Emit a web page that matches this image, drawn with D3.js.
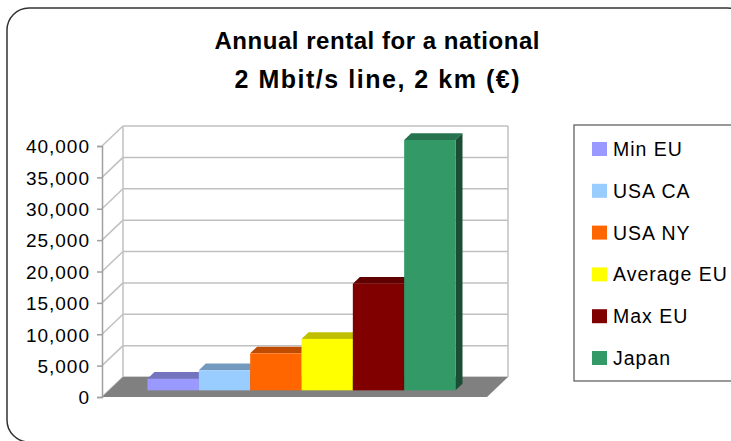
<!DOCTYPE html>
<html>
<head>
<meta charset="utf-8">
<script src="https://cdn.jsdelivr.net/npm/d3@7"></script>
<style>
  body { margin: 0; background: #fff; }
  text { font-family: "Liberation Sans", Arial, sans-serif; fill: #000; }
</style>
</head>
<body>
<script>
const series = ["Min EU", "USA CA", "USA NY", "Average EU", "Max EU", "Japan"];
const values = [1850, 3200, 5900, 8200, 17000, 39900];
const frontColors = ["#9999ff", "#99ccff", "#ff6600", "#ffff00", "#800000", "#339966"];
const topColors = ["#7373bf", "#7399bf", "#bf4c00", "#bfbf00", "#600000", "#267350"];
const sideColors = ["#4d4d80", "#4d6680", "#803300", "#808000", "#400000", "#1a4d33"];
const yTicks = [0, 5000, 10000, 15000, 20000, 25000, 30000, 35000, 40000];
const titleLines = ["Annual rental for a national", "2 Mbit/s line, 2 km (€)"];
const titleWidths = [325, 285];
const titleSizes = [24, 25];

const W = 731, H = 441;
const DX = 21, DY = -20; // depth of the plot box

const svg = d3.select("body")
    .append("svg")
    .attr("width", W)
    .attr("height", H);

// outer rounded frame
svg.append("rect")
    .attr("x", 7).attr("y", 8)
    .attr("width", 742).attr("height", 434)
    .attr("rx", 22).attr("ry", 22)
    .attr("fill", "none")
    .attr("stroke", "#333")
    .attr("stroke-width", 1.5);

// title
svg.append("g")
    .selectAll("text")
    .data(titleLines)
    .enter()
    .append("text")
    .attr("text-anchor", "middle")
    .attr("font-weight", "bold")
    .attr("font-size", (d, i) => titleSizes[i])
    .attr("x", 377)
    .attr("y", (d, i) => 49 + i * 39)
    .attr("textLength", (d, i) => titleWidths[i])
    .attr("lengthAdjust", "spacing")
    .text(d => d);

const x = d3.scaleBand()
    .domain(series)
    .range([102, 487])
    .paddingInner(0)
    .paddingOuter(0.75);

const y = d3.scaleLinear()
    .domain([0, 40000])
    .range([397, 146]);

// back wall + left wall gridlines
const grid = svg.append("g").attr("stroke", "#c0c0c0").attr("stroke-width", 1.5).attr("fill", "none");
yTicks.forEach(t => {
    grid.append("line")
        .attr("x1", x.range()[0] + DX).attr("x2", x.range()[1] + DX)
        .attr("y1", y(t) + DY).attr("y2", y(t) + DY);
    grid.append("line")
        .attr("x1", x.range()[0]).attr("x2", x.range()[0] + DX)
        .attr("y1", y(t)).attr("y2", y(t) + DY);
});
grid.append("line")
    .attr("x1", x.range()[0] + DX).attr("x2", x.range()[0] + DX)
    .attr("y1", y(0) + DY).attr("y2", y(40000) + DY);
grid.append("line")
    .attr("x1", x.range()[1] + DX).attr("x2", x.range()[1] + DX)
    .attr("y1", y(0) + DY).attr("y2", y(40000) + DY);

// floor
const x0 = x.range()[0], x1 = x.range()[1], yf = y(0);
svg.append("path")
    .attr("d", `M${x0},${yf}L${x1},${yf}L${x1 + DX},${yf + DY}L${x0 + DX},${yf + DY}Z`)
    .attr("fill", "#808080");

// y axis
const axis = svg.append("g")
    .attr("transform", `translate(${x0},0)`)
    .call(d3.axisLeft(y).tickValues(yTicks).tickSize(5).tickPadding(7).tickFormat(d3.format(",")));
axis.select(".domain").attr("stroke", "#a0a0a0").attr("stroke-width", 1.5);
axis.selectAll(".tick line").attr("stroke", "#a0a0a0").attr("stroke-width", 1.5);
axis.selectAll(".tick text")
    .attr("font-size", 19)
    .attr("letter-spacing", 1)
    .attr("dy", "0.36em")
    .style("font-family", "'Liberation Sans', Arial, sans-serif")
    .attr("fill", "#000");

// bars, placed in the middle third of the depth
const bx = DX / 3, by = DY / 3;
const bars = svg.append("g");
series.forEach((s, i) => {
    const left = x(s) + bx, right = x(s) + x.bandwidth() + bx;
    const top = y(values[i]) + by, bottom = y(0) + by;
    const g = bars.append("g");
    g.append("path")
        .attr("d", `M${left},${top}L${left + bx},${top + by}L${right + bx},${top + by}L${right},${top}Z`)
        .attr("fill", topColors[i]);
    g.append("path")
        .attr("d", `M${right},${top}L${right + bx},${top + by}L${right + bx},${bottom + by}L${right},${bottom}Z`)
        .attr("fill", sideColors[i]);
    g.append("rect")
        .attr("x", left).attr("y", top)
        .attr("width", right - left).attr("height", bottom - top)
        .attr("fill", frontColors[i]);
});

// legend
const legend = svg.append("g");
legend.append("rect")
    .attr("x", 574).attr("y", 125)
    .attr("width", 200).attr("height", 256)
    .attr("fill", "#fff")
    .attr("stroke", "#555")
    .attr("stroke-width", 1.2);
const item = legend.selectAll(".item")
    .data(series)
    .enter()
    .append("g")
    .attr("transform", (d, i) => `translate(592,${156 + i * 41.8})`);
item.append("rect")
    .attr("x", 0).attr("y", -14)
    .attr("width", 15).attr("height", 14)
    .attr("fill", (d, i) => frontColors[i]);
item.append("text")
    .attr("x", 21)
    .attr("y", 0)
    .attr("font-size", 19.5)
    .attr("letter-spacing", 1)
    .text(d => d);
</script>
</body>
</html>
